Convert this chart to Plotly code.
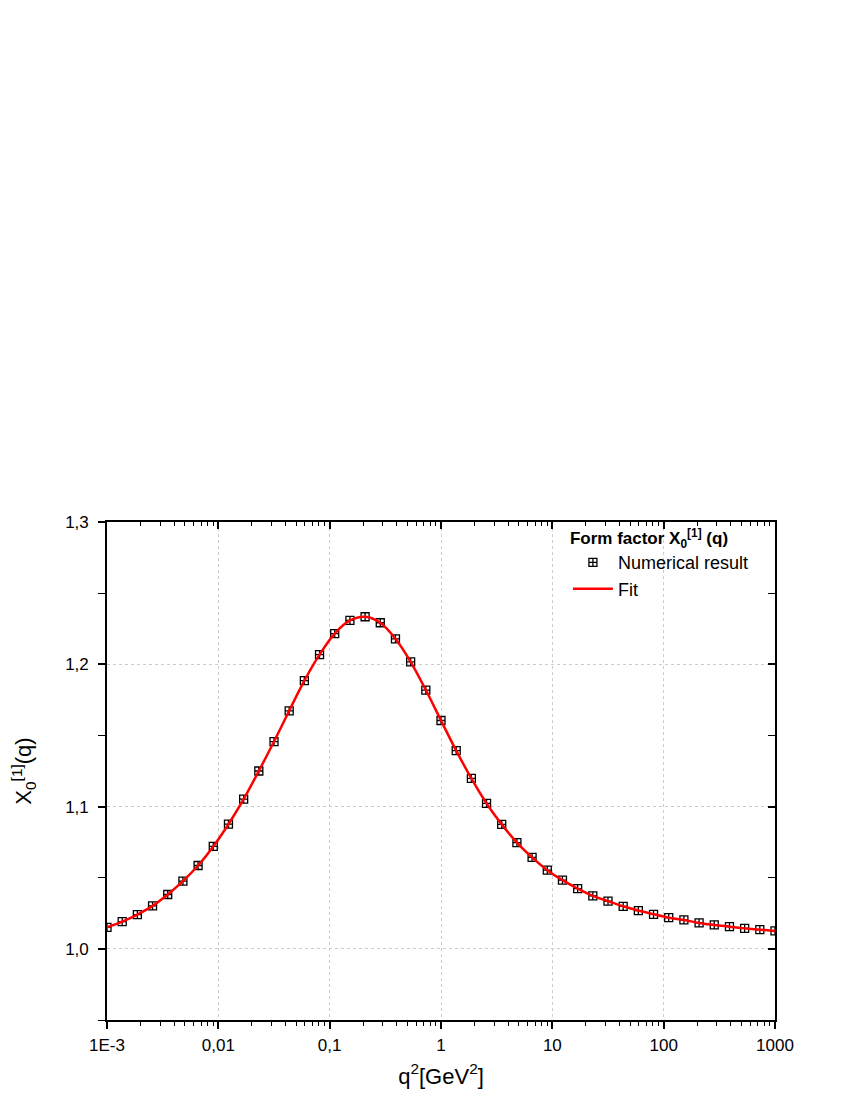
import plotly.graph_objects as go

# q^2 in GeV^2 (log-spaced grid)
q2 = [0.001, 0.001369, 0.001874, 0.002565, 0.003511, 0.004806, 0.006579, 0.009006,
      0.01233, 0.01688, 0.02310, 0.03162, 0.04329, 0.05925, 0.08111, 0.1110,
      0.1520, 0.2081, 0.2848, 0.3899, 0.5337, 0.7305, 1.0, 1.369,
      1.874, 2.565, 3.511, 4.806, 6.579, 9.006, 12.33, 16.88,
      23.10, 31.62, 43.29, 59.25, 81.11, 111.0, 152.0, 208.1,
      284.8, 389.9, 533.7, 730.5, 1000.0]

# X_0^[1](q), numerical result
x0 = [1.0151, 1.0191, 1.0241, 1.0302, 1.0382, 1.0476, 1.0586, 1.0720,
      1.0876, 1.1052, 1.1250, 1.1457, 1.1673, 1.1885, 1.2068, 1.2216,
      1.2308, 1.2334, 1.2292, 1.2179, 1.2017, 1.1819, 1.1605, 1.1393,
      1.1198, 1.1022, 1.0875, 1.0747, 1.0643, 1.0553, 1.0483, 1.0424,
      1.0373, 1.0335, 1.0299, 1.0269, 1.0243, 1.0219, 1.0203, 1.0182,
      1.0168, 1.0156, 1.0144, 1.0135, 1.0126]

x_tickvals = [0.001, 0.01, 0.1, 1, 10, 100, 1000]
x_ticktext = ["1E-3", "0,01", "0,1", "1", "10", "100", "1000"]
y_tickvals = [1.0, 1.1, 1.2, 1.3]
y_ticktext = ["1,0", "1,1", "1,2", "1,3"]

# minor ticks 2..9 in every decade
x_minor = [m * d for d in x_tickvals[:-1] for m in range(2, 10)]

FONT = "Liberation Sans, Arial, sans-serif"

fig = go.Figure()

fig.add_trace(go.Scatter(
    x=q2, y=x0, mode="markers", name="Numerical result",
    marker=dict(symbol="square-cross-open", size=8, color="black",
                line=dict(width=1.3, color="black")),
))
fig.add_trace(go.Scatter(
    x=q2, y=x0, mode="lines", name="Fit", line_shape="spline",
    line=dict(color="#ff0000", width=2.5),
))
# dummy trace so the mirrored (inside-tick) axes get drawn
fig.add_trace(go.Scatter(
    x=[q2[0]], y=[x0[0]], xaxis="x2", yaxis="y2", mode="markers",
    marker=dict(opacity=0), showlegend=False, hoverinfo="skip",
))

common = dict(showline=True, linecolor="black", linewidth=1.6,
              tickcolor="black", tickwidth=1.6, zeroline=False)

fig.update_layout(
    width=850, height=1100,
    margin=dict(l=99, r=83, t=514, b=88),
    paper_bgcolor="white", plot_bgcolor="white",
    font=dict(family=FONT, size=17, color="black"),
    xaxis=dict(
        type="log", range=[-3, 3], tickmode="array",
        tickvals=x_tickvals, ticktext=x_ticktext,
        ticks="outside", ticklen=7, tickfont=dict(size=17),
        ticklabelstandoff=2,
        showgrid=True, gridcolor="#cccccc", griddash="dot", gridwidth=1,
        minor=dict(tickmode="array", tickvals=x_minor, ticks="outside",
                   ticklen=4, tickcolor="black", tickwidth=1.4, showgrid=False),
        title=dict(text="q<sup>2</sup>[GeV<sup>2</sup>]", font=dict(size=22),
                   standoff=14),
        **common,
    ),
    yaxis=dict(
        range=[0.95, 1.3], tickmode="array",
        tickvals=y_tickvals, ticktext=y_ticktext,
        ticks="outside", ticklen=7, tickfont=dict(size=17),
        ticklabelstandoff=6,
        showgrid=True, gridcolor="#cccccc", griddash="dot", gridwidth=1,
        minor=dict(dtick=0.05, tick0=0.95, ticks="outside", ticklen=7,
                   tickcolor="black", tickwidth=1.4, showgrid=False),
        title=dict(text="X<sub>0</sub><sup>[1]</sup>(q)", font=dict(size=22),
                   standoff=30),
        **common,
    ),
    xaxis2=dict(
        type="log", range=[-3, 3], overlaying="x", side="top",
        tickmode="array", tickvals=x_tickvals, showticklabels=False,
        ticks="inside", ticklen=7, showgrid=False,
        minor=dict(tickmode="array", tickvals=x_minor, ticks="inside",
                   ticklen=4, tickcolor="black", tickwidth=1.4, showgrid=False),
        **common,
    ),
    yaxis2=dict(
        range=[0.95, 1.3], overlaying="y", side="right",
        tickmode="array", tickvals=y_tickvals, showticklabels=False,
        ticks="inside", ticklen=7, showgrid=False,
        minor=dict(dtick=0.05, tick0=0.95, ticks="inside", ticklen=7,
                   tickcolor="black", tickwidth=1.4, showgrid=False),
        **common,
    ),
    legend=dict(
        x=0.69, y=1.0, xanchor="left", yanchor="top",
        bgcolor="rgba(0,0,0,0)", font=dict(size=18), tracegroupgap=0,
        itemwidth=40,
        title=dict(text="<b>Form factor X<sub>0</sub><sup>[1]</sup> (q)</b>",
                   font=dict(size=17)),
    ),
    showlegend=True,
)

fig.write_html("out.html")
